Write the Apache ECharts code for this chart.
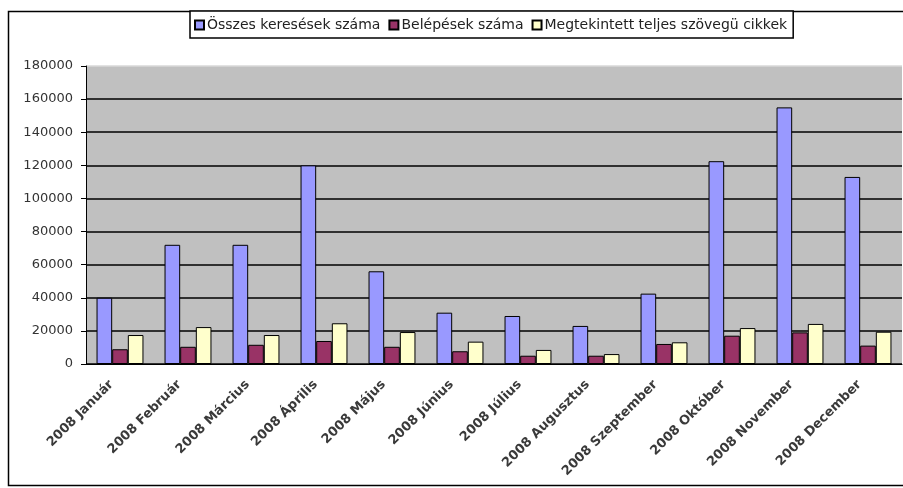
<!DOCTYPE html>
<html>
<head>
<meta charset="utf-8">
<script src="https://cdn.jsdelivr.net/npm/echarts@6/dist/echarts.min.js"></script>
<style>html,body{margin:0;padding:0;background:#fff;}#c{width:903px;height:488px;}</style>
</head>
<body>
<div id="c"></div>
<script>
const categories = ['2008 Január','2008 Február','2008 Március','2008 Április','2008 Május','2008 Június','2008 Július','2008 Augusztus','2008 Szeptember','2008 Október','2008 November','2008 December'];
const seriesNames = ['Összes keresések száma','Belépések száma','Megtekintett teljes szövegü cikkek'];
const searches = [40000, 72000, 72000, 120000, 56000, 31000, 29000, 23000, 42500, 122500, 155000, 113000];
const logins = [8900, 10400, 11600, 13900, 10400, 7700, 5000, 5000, 12100, 17100, 19100, 11100];
const fulltext = [17500, 22300, 17500, 24600, 19300, 13500, 8500, 6000, 13100, 21700, 24200, 19500];
const yTicks = [0, 20000, 40000, 60000, 80000, 100000, 120000, 140000, 160000, 180000];

const colors = ['#9999ff', '#993366', '#ffffcc'];
const chart = echarts.init(document.getElementById('c'), null, {renderer: 'canvas'});
const splitColors = yTicks.map((v, i) => i === yTicks.length - 1 ? '#d8d8d8' : '#000');
const mk = (name, data, i) => ({
  name, type: 'bar', data, barGap: '0%', barCategoryGap: '31%',
  itemStyle: {color: colors[i], borderColor: '#000', borderWidth: 1},
  emphasis: {disabled: true}
});
chart.setOption({
  animation: false,
  textStyle: {fontFamily: 'DejaVu Sans'},
  graphic: [{
    type: 'rect', shape: {x: 8.5, y: 11.5, width: 1000, height: 474},
    style: {fill: 'none', stroke: '#000', lineWidth: 1.5}, z: -10, silent: true
  }],
  legend: {
    left: 190, top: 11, padding: [7, 6, 6, 4], itemGap: 8,
    itemWidth: 9, itemHeight: 9, icon: 'rect',
    borderColor: '#000', borderWidth: 1.5, backgroundColor: '#fff',
    textStyle: {fontFamily: 'DejaVu Sans', fontSize: 14, color: '#222', padding: [0, 0, 0, -2]},
    data: seriesNames
  },
  grid: {left: 86, right: 1, top: 66, bottom: 124, show: true, backgroundColor: '#c0c0c0', borderWidth: 0},
  xAxis: {
    type: 'category', data: categories,
    axisLine: {lineStyle: {color: '#000', width: 1}},
    axisTick: {length: 5, lineStyle: {color: '#000'}},
    axisLabel: {rotate: 45, margin: 10, interval: 0, padding: [0, 12, 0, 0], fontFamily: 'DejaVu Sans', fontSize: 13, fontWeight: 'bold', color: '#3a3a3a'}
  },
  yAxis: {
    type: 'value', min: yTicks[0], max: yTicks[yTicks.length - 1], interval: 20000,
    axisLine: {show: true, lineStyle: {color: '#000', width: 1}},
    axisTick: {show: true, length: 5, lineStyle: {color: '#000'}},
    axisLabel: {margin: 13, fontFamily: 'DejaVu Sans', fontSize: 13, color: '#333', formatter: v => String(v)},
    splitLine: {lineStyle: {color: splitColors, width: 1.5}}
  },
  series: [mk(seriesNames[0], searches, 0), mk(seriesNames[1], logins, 1), mk(seriesNames[2], fulltext, 2)]
});
</script>
</body>
</html>
